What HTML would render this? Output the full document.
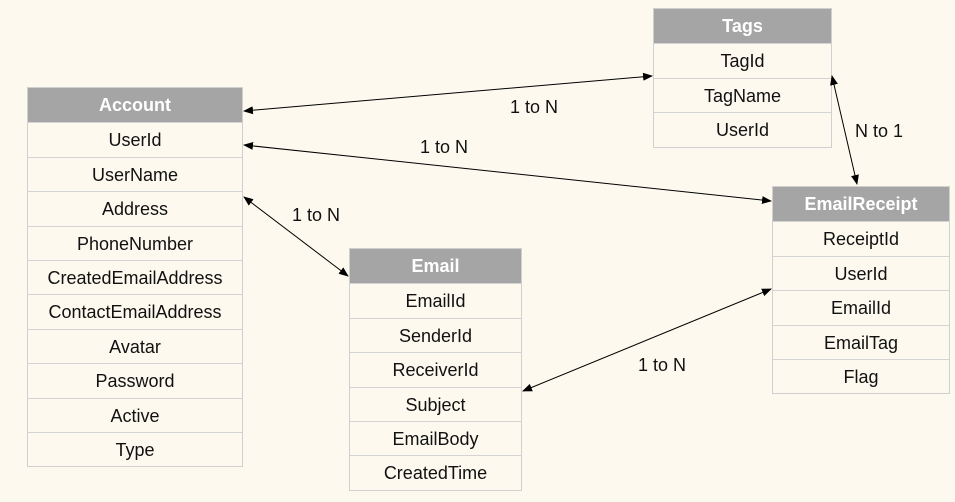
<!DOCTYPE html>
<html><head><style>
body{margin:0;width:955px;height:502px;background:#fdf9ee;position:relative;overflow:hidden;font-family:"Liberation Sans",sans-serif;}
.t{position:absolute;border:1px solid #d0d0d0;box-sizing:border-box;}
.t div{height:34.4px;line-height:34px;text-align:center;font-size:18px;color:#111;border-top:1px solid #d4d4d4;box-sizing:border-box;white-space:nowrap;}
.t div.h{background:#a5a5a5;color:#fff;font-weight:bold;border-top:none;}
.l{position:absolute;font-size:18px;color:#111;}
svg{position:absolute;left:0;top:0;}
</style></head><body>
<div class="t" style="left:27px;top:87px;width:216px"><div class="h">Account</div><div>UserId</div><div>UserName</div><div>Address</div><div>PhoneNumber</div><div>CreatedEmailAddress</div><div>ContactEmailAddress</div><div>Avatar</div><div>Password</div><div>Active</div><div>Type</div></div>
<div class="t" style="left:653px;top:8px;width:179px"><div class="h">Tags</div><div>TagId</div><div>TagName</div><div>UserId</div></div>
<div class="t" style="left:772px;top:186px;width:178px"><div class="h">EmailReceipt</div><div>ReceiptId</div><div>UserId</div><div>EmailId</div><div>EmailTag</div><div>Flag</div></div>
<div class="t" style="left:349px;top:248px;width:173px"><div class="h">Email</div><div>EmailId</div><div>SenderId</div><div>ReceiverId</div><div>Subject</div><div>EmailBody</div><div>CreatedTime</div></div>
<svg width="955" height="502">
<defs><marker id="a" markerWidth="10" markerHeight="8" refX="9" refY="4" orient="auto-start-reverse" markerUnits="userSpaceOnUse"><path d="M0,0 L10,4 L0,8 z" fill="#000"/></marker></defs>
<g stroke="#000" stroke-width="1" marker-start="url(#a)" marker-end="url(#a)">
<line x1="244" y1="111" x2="652" y2="76"/>
<line x1="244" y1="145" x2="771" y2="201"/>
<line x1="244" y1="197" x2="348" y2="276"/>
<line x1="523" y1="391" x2="771" y2="289"/>
<line x1="832" y1="76" x2="857" y2="184"/>
</g></svg>
<div class="l" style="left:510px;top:97px">1 to N</div>
<div class="l" style="left:420px;top:137px">1 to N</div>
<div class="l" style="left:292px;top:205px">1 to N</div>
<div class="l" style="left:638px;top:355px">1 to N</div>
<div class="l" style="left:855px;top:121px">N to 1</div>
</body></html>
